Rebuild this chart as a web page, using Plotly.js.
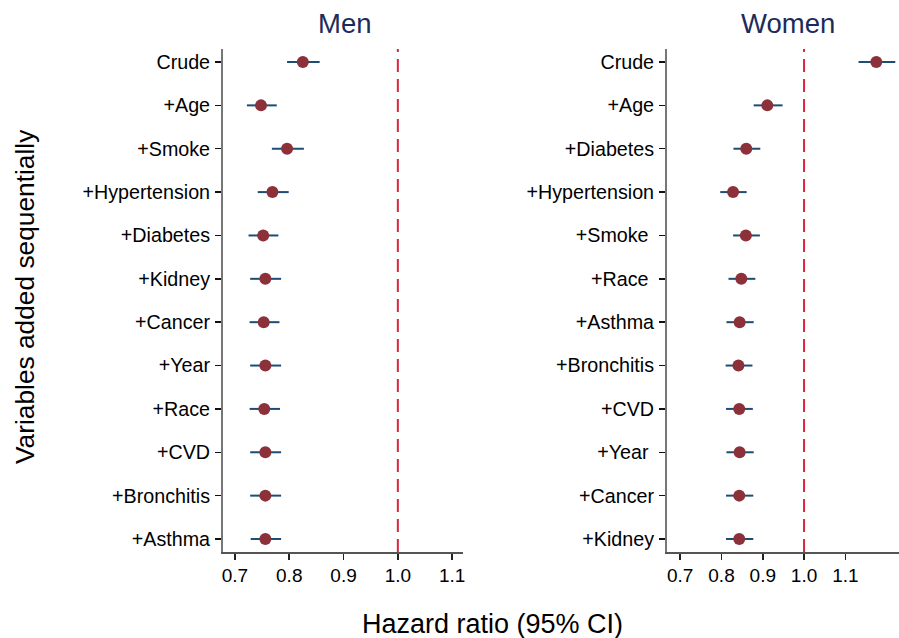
<!DOCTYPE html>
<html>
<head>
<meta charset="utf-8">
<script src="https://cdn.plot.ly/plotly-3.0.1.min.js"></script>
<style>html,body{margin:0;padding:0;background:#fff}#chart{width:899px;height:638px}</style>
</head>
<body>
<div id="chart"></div>
<script>
// Men
const menLabels = ["Crude", "+Age", "+Smoke", "+Hypertension", "+Diabetes", "+Kidney", "+Cancer", "+Year", "+Race", "+CVD", "+Bronchitis", "+Asthma"];
const menHR    = [0.825, 0.748, 0.796, 0.769, 0.752, 0.756, 0.753, 0.756, 0.754, 0.756, 0.756, 0.756];
const menLow   = [0.796, 0.722, 0.768, 0.742, 0.725, 0.728, 0.727, 0.728, 0.727, 0.728, 0.728, 0.729];
const menHigh  = [0.856, 0.777, 0.827, 0.799, 0.780, 0.785, 0.782, 0.785, 0.783, 0.785, 0.785, 0.785];
// Women
const womenLabels = ["Crude", "+Age", "+Diabetes", "+Hypertension", "+Smoke\u00a0", "+Race\u00a0", "+Asthma", "+Bronchitis", "+CVD", "+Year\u00a0", "+Cancer", "+Kidney"];
const womenHR   = [1.175, 0.911, 0.860, 0.828, 0.859, 0.848, 0.844, 0.841, 0.843, 0.844, 0.843, 0.843];
const womenLow  = [1.132, 0.878, 0.829, 0.797, 0.828, 0.817, 0.812, 0.810, 0.811, 0.812, 0.811, 0.811];
const womenHigh = [1.221, 0.948, 0.894, 0.861, 0.893, 0.882, 0.878, 0.875, 0.876, 0.878, 0.877, 0.877];
const xTicks = [0.7, 0.8, 0.9, 1.0, 1.1];
const refLine = 1.0;

const pointColor = "#8c3039";
const ciColor = "#1d4c74";
function trace(labels, hr, lo, hi, xa, ya) {
  return {
    type: "scatter", mode: "markers",
    x: hr, y: labels, xaxis: xa, yaxis: ya,
    marker: {color: pointColor, size: 12},
    error_x: {type: "data", symmetric: false,
      array: hi.map((h, i) => h - hr[i]),
      arrayminus: lo.map((l, i) => hr[i] - l),
      color: ciColor, thickness: 2, width: 0},
    hoverinfo: "x+y", showlegend: false, cliponaxis: false
  };
}
const data = [
  trace(menLabels, menHR, menLow, menHigh, "x", "y"),
  trace(womenLabels, womenHR, womenLow, womenHigh, "x2", "y2")
];
const W = 899, H = 638;
const yDom = [1 - 552 / H, 1 - 49 / H];
const FAM = "Liberation Sans, Arial, sans-serif";
function xax(dom, range) {
  return {domain: dom, range: range, tickvals: xTicks, tickformat: ".1f",
    ticks: "outside", ticklen: 6, tickwidth: 1.5, tickcolor: "#222",
    showline: true, linecolor: "#555", linewidth: 1.5, showgrid: false, zeroline: false,
    tickfont: {family: FAM, size: 19, color: "#000"}, fixedrange: true};
}
function yax(labels, anchor) {
  return {domain: yDom, anchor: anchor, type: "category", categoryorder: "array", categoryarray: labels,
    range: [labels.length - 1 + 0.3, -0.3], ticks: "outside", ticklen: 6, tickwidth: 1.5, tickcolor: "#111",
    showline: true, linecolor: "#777", linewidth: 2, showgrid: false, zeroline: false,
    tickfont: {family: FAM, size: 19.7, color: "#000"}, ticklabelstandoff: 1, fixedrange: true};
}
const layout = {
  width: W, height: H, margin: {l: 0, r: 0, t: 0, b: 0},
  paper_bgcolor: "#fff", plot_bgcolor: "#fff",
  xaxis: Object.assign(xax([223 / W, 463 / W], [0.678, 1.12]), {anchor: "y"}),
  xaxis2: Object.assign(xax([667 / W, 1.0], [0.668, 1.23]), {anchor: "y2"}),
  yaxis: yax(menLabels, "x"),
  yaxis2: yax(womenLabels, "x2"),
  shapes: [
    {type: "line", xref: "x", yref: "paper", x0: refLine, x1: refLine, y0: yDom[0], y1: yDom[1],
     line: {color: "#d7263d", width: 2, dash: "13px,7px"}},
    {type: "line", xref: "x2", yref: "paper", x0: refLine, x1: refLine, y0: yDom[0], y1: yDom[1],
     line: {color: "#d7263d", width: 2, dash: "13px,7px"}}
  ],
  annotations: [
    {text: "Men", xref: "paper", yref: "paper", x: 345 / W, y: 1 - 24 / H, showarrow: false,
     xanchor: "center", yanchor: "middle", font: {family: FAM, size: 27.5, color: "#1c2b5a"}},
    {text: "Women", xref: "paper", yref: "paper", x: 788 / W, y: 1 - 24 / H, showarrow: false,
     xanchor: "center", yanchor: "middle", font: {family: FAM, size: 27.5, color: "#1c2b5a"}},
    {text: "Variables added sequentially", xref: "paper", yref: "paper", x: 25 / W, y: 1 - 297 / H, showarrow: false,
     textangle: -90, xanchor: "center", yanchor: "middle", font: {family: FAM, size: 26.3, color: "#000"}},
    {text: "Hazard ratio (95% CI)", xref: "paper", yref: "paper", x: 492 / W, y: 1 - 624 / H, showarrow: false,
     xanchor: "center", yanchor: "middle", font: {family: FAM, size: 27, color: "#000"}}
  ]
};
Plotly.newPlot("chart", data, layout, {displayModeBar: false, staticPlot: true});
</script>
</body>
</html>
